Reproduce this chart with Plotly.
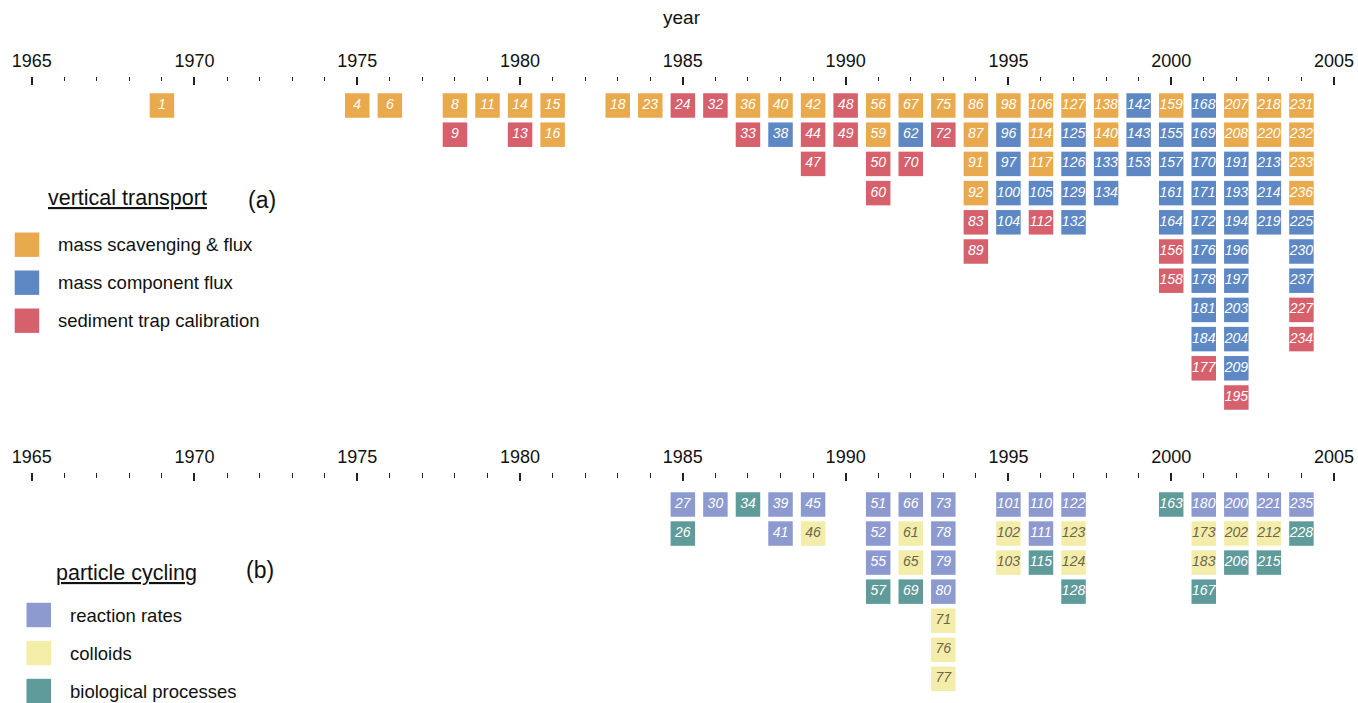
import plotly.graph_objects as go

W, H = 1358, 703

# ---- data: (year, reference number) per category ----
# (a) vertical transport
scav_years = [1969, 1975, 1976, 1978, 1979, 1980, 1981, 1981, 1983, 1984, 1987, 1988, 1989,
              1991, 1991, 1992, 1993, 1994, 1994, 1994, 1994, 1995, 1996, 1996, 1996, 1997,
              1998, 1998, 2000, 2002, 2002, 2003, 2003, 2004, 2004, 2004, 2004]
scav_refs = [1, 4, 6, 8, 11, 14, 15, 16, 18, 23, 36, 40, 42,
             56, 59, 67, 75, 86, 87, 91, 92, 98, 106, 114, 117, 127,
             138, 140, 159, 207, 208, 218, 220, 231, 232, 233, 236]

comp_years = [1988, 1992, 1995, 1995, 1995, 1995, 1996, 1997, 1997, 1997, 1997, 1998, 1998,
              1999, 1999, 1999, 2000, 2000, 2000, 2000,
              2001, 2001, 2001, 2001, 2001, 2001, 2001, 2001, 2001,
              2002, 2002, 2002, 2002, 2002, 2002, 2002, 2002,
              2003, 2003, 2003, 2004, 2004, 2004]
comp_refs = [38, 62, 96, 97, 100, 104, 105, 125, 126, 129, 132, 133, 134,
             142, 143, 153, 155, 157, 161, 164,
             168, 169, 170, 171, 172, 176, 178, 181, 184,
             191, 193, 194, 196, 197, 203, 204, 209,
             213, 214, 219, 225, 230, 237]

calib_years = [1978, 1980, 1985, 1986, 1987, 1989, 1989, 1990, 1990, 1991, 1991, 1992, 1993,
               1994, 1994, 1996, 2000, 2000, 2001, 2002, 2004, 2004]
calib_refs = [9, 13, 24, 32, 33, 44, 47, 48, 49, 50, 60, 70, 72,
              83, 89, 112, 156, 158, 177, 195, 227, 234]

# (b) particle cycling
rate_years = [1985, 1986, 1988, 1988, 1989, 1991, 1991, 1991, 1992, 1993, 1993, 1993, 1993,
              1995, 1996, 1996, 1997, 2001, 2002, 2003, 2004]
rate_refs = [27, 30, 39, 41, 45, 51, 52, 55, 66, 73, 78, 79, 80,
             101, 110, 111, 122, 180, 200, 221, 235]

coll_years = [1989, 1992, 1992, 1993, 1993, 1993, 1995, 1995, 1997, 1997, 2001, 2001, 2002, 2003]
coll_refs = [46, 61, 65, 71, 76, 77, 102, 103, 123, 124, 173, 183, 202, 212]

bio_years = [1985, 1987, 1991, 1992, 1996, 1997, 2000, 2001, 2002, 2003, 2004]
bio_refs = [26, 34, 57, 69, 115, 128, 163, 167, 206, 215, 228]

year_ticks = list(range(1965, 2006, 5))
minor_ticks = [y for y in range(1965, 2006) if y % 5]

panel_a = [
    ("mass scavenging & flux", scav_years, scav_refs, "#E9AA4E", "white"),
    ("mass component flux", comp_years, comp_refs, "#5E88C3", "white"),
    ("sediment trap calibration", calib_years, calib_refs, "#D6606C", "white"),
]
panel_b = [
    ("reaction rates", rate_years, rate_refs, "#8D9AD0", "white"),
    ("colloids", coll_years, coll_refs, "#F4EDA9", "#6A6550"),
    ("biological processes", bio_years, bio_refs, "#5F9B9A", "white"),
]

FONT = "Liberation Sans, Arial, sans-serif"

# pixel calibration
X65, X05 = 31.7, 1334.0
ppy = (X05 - X65) / 40
x_range = [1965 - X65 / ppy, 1965 + (W - X65) / ppy]


def y_range(row0_px, pitch):
    return [(H - row0_px) / pitch, -row0_px / pitch]


def px_x(p):
    return p / W


def px_y(p):
    return 1 - p / H


fig = go.Figure()


def add_panel(groups, xa, ya):
    counts = {}
    for name, years, refs, color, tcolor in groups:
        rows = []
        for yr in years:
            r = counts.get(yr, 0)
            rows.append(r)
            counts[yr] = r + 1
        fig.add_trace(go.Scatter(
            x=years, y=rows, text=[str(r) for r in refs],
            mode="markers+text", textposition="middle center",
            marker=dict(symbol="square", size=24.5, color=color, line=dict(width=0)),
            textfont=dict(family=FONT, size=14, color=tcolor, style="italic"),
            name=name, showlegend=False, xaxis=xa, yaxis=ya,
            hovertemplate="%{x}: ref %{text}<extra>" + name + "</extra>",
        ))


add_panel(panel_a, "x", "y")
add_panel(panel_b, "x2", "y2")

axis_common = dict(
    range=x_range, side="top", anchor="free",
    tickmode="array", tickvals=year_ticks, ticks="inside", ticklen=8, tickwidth=1.6,
    tickcolor="#222", showline=False, showgrid=False, zeroline=False,
    ticklabelstandoff=5,
    tickfont=dict(family=FONT, size=18, color="#111"),
    minor=dict(tickmode="array", tickvals=minor_ticks, ticks="inside", ticklen=4.5,
               tickwidth=1.4, tickcolor="#222", showgrid=False),
)

fig.update_layout(
    width=W, height=H,
    margin=dict(l=0, r=0, t=0, b=0),
    paper_bgcolor="white", plot_bgcolor="white",
    xaxis=dict(axis_common, domain=[0, 1], position=px_y(75.5)),
    xaxis2=dict(axis_common, domain=[0, 1], position=px_y(472), overlaying="x"),
    yaxis=dict(range=y_range(105.5, 29.2), domain=[0, 1], visible=False, anchor="x"),
    yaxis2=dict(range=y_range(504.5, 29.05), domain=[0, 1], visible=False,
                overlaying="y", anchor="x2"),
    showlegend=False,
)

ann = []
shapes = []
ann.append(dict(text="year", x=px_x(682), y=px_y(18), xref="paper", yref="paper",
                xanchor="center", yanchor="middle",
                showarrow=False, font=dict(family=FONT, size=19, color="#111")))


def add_legend(title, tag, title_x, title_y, tag_x, tag_y, sq_x, txt_x, y0, groups):
    ann.append(dict(text="<u>" + title + "</u>", x=px_x(title_x), y=px_y(title_y),
                    xref="paper", yref="paper", xanchor="left", yanchor="middle",
                    showarrow=False, font=dict(family=FONT, size=21.5, color="#111")))
    ann.append(dict(text=tag, x=px_x(tag_x), y=px_y(tag_y), xref="paper", yref="paper",
                    xanchor="left", yanchor="middle", showarrow=False,
                    font=dict(family=FONT, size=23, color="#111")))
    for i, (name, _, _, color, _) in enumerate(groups):
        cy = y0 + i * 38
        shapes.append(dict(type="rect", xref="paper", yref="paper",
                           x0=px_x(sq_x), x1=px_x(sq_x + 24.5),
                           y0=px_y(cy + 12.2), y1=px_y(cy - 12.2),
                           fillcolor=color, line=dict(width=0)))
        ann.append(dict(text=name, x=px_x(txt_x), y=px_y(cy), xref="paper", yref="paper",
                        xanchor="left", yanchor="middle", showarrow=False,
                        font=dict(family=FONT, size=18.5, color="#111")))


add_legend("vertical transport", "(a)", 46, 198, 246, 200, 14.7, 56, 244.7, panel_a)
add_legend("particle cycling", "(b)", 54, 573, 244, 570, 26.5, 68, 615, panel_b)

fig.update_layout(annotations=ann, shapes=shapes)

fig.write_html("out.html", config={"displayModeBar": False},
               post_script="document.body.style.margin='0';")
